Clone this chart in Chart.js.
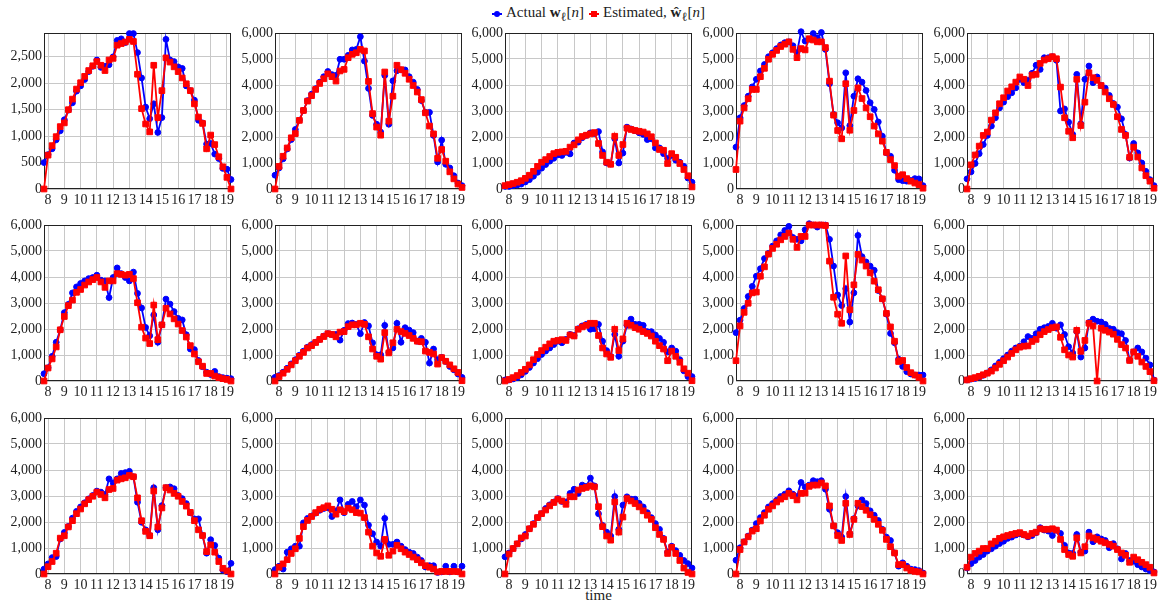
<!DOCTYPE html>
<html>
<head>
<meta charset="utf-8">
<script src="https://cdn.jsdelivr.net/npm/chart.js@4.4.1/dist/chart.umd.min.js"></script>
<style>
  html, body { margin: 0; padding: 0; background: #fff; }
  body { width: 1159px; height: 603px; position: relative; overflow: hidden;
         font-family: "Liberation Serif", serif; color: #222; }
  .panel { position: absolute; }
  #legend { position: absolute; top: 4px; left: 0; width: 1197px; text-align: center;
            font-size: 15px; white-space: nowrap; }
  .sw { display: inline-block; position: relative; width: 10px; height: 8px; vertical-align: middle; margin-right: 4px; }
  .sw::before { content: ''; position: absolute; left: 0; right: 0; top: 3px; height: 2px; background: currentColor; }
  .sw::after { content: ''; position: absolute; left: 2px; top: 1px; width: 6px; height: 6px; background: currentColor; }
  .sw.blue { color: #0000ff; }
  .sw.blue::after { border-radius: 50%; }
  .sw.red { color: #ff0000; margin-left: 5px; }
  #xlabel { position: absolute; top: 587px; left: 0; width: 1197px; text-align: center; font-size: 15px; }
</style>
</head>
<body>
<div id="legend"><span class="sw blue"></span>Actual <b>w</b><sub>ℓ</sub>[<i>n</i>]<span class="sw red"></span>Estimated, <b>ŵ</b><sub>ℓ</sub>[<i>n</i>]</div>
<div id="xlabel">time</div>
<script>
// sample times (hours), 15 minute steps
const hours = [7.75, 8, 8.25, 8.5, 8.75, 9, 9.25, 9.5, 9.75, 10, 10.25, 10.5, 10.75, 11, 11.25, 11.5,
  11.75, 12, 12.25, 12.5, 12.75, 13, 13.25, 13.5, 13.75, 14, 14.25, 14.5, 14.75, 15, 15.25, 15.5,
  15.75, 16, 16.25, 16.5, 16.75, 17, 17.25, 17.5, 17.75, 18, 18.25, 18.5, 18.75, 19, 19.25];
const hourTicks = [8, 9, 10, 11, 12, 13, 14, 15, 16, 17, 18, 19];
const smallTicks = [0, 500, 1000, 1500, 2000, 2500];
const bigTicks = [0, 1000, 2000, 3000, 4000, 5000, 6000];

// row 1
const act11 = [500, 650, 760, 930, 1100, 1310, 1490, 1630, 1850, 1950, 2070, 2220, 2320, 2440, 2300, 2320, 2350, 2500, 2810, 2840, 2770, 2940, 2940, 2580, 2100, 1550, 1330, 1610, 1070, 1350, 2830, 2440, 2410, 2310, 2280, 1950, 1860, 1680, 1300, 1250, 850, 860, 660, 575, 390, 375, 180];
const est11 = [0, 640, 820, 990, 1180, 1250, 1500, 1700, 1890, 2010, 2130, 2240, 2330, 2410, 2340, 2240, 2440, 2470, 2720, 2750, 2780, 2830, 2790, 2170, 1520, 1230, 1080, 2340, 1350, 1860, 2480, 2400, 2310, 2220, 2100, 1990, 1860, 1610, 1360, 1240, 760, 1020, 840, 610, 420, 220, 0];
const act12 = [530, 810, 1160, 1540, 1900, 2290, 2650, 3020, 3400, 3650, 3860, 4110, 4320, 4520, 4400, 4370, 4990, 4990, 5140, 5350, 5370, 5860, 4920, 3870, 2830, 2490, 2190, 4370, 2490, 4160, 4550, 4580, 4580, 4320, 4110, 3830, 3400, 2950, 2950, 2060, 1040, 1880, 950, 810, 510, 230, 130];
const est12 = [0, 870, 1260, 1580, 1970, 2130, 2640, 3020, 3380, 3590, 3830, 4060, 4240, 4430, 4320, 4150, 4540, 4600, 5050, 5180, 5240, 5370, 5310, 4140, 2900, 2380, 2070, 4500, 2610, 3570, 4760, 4590, 4450, 4220, 3980, 3730, 3440, 2930, 2420, 2120, 1180, 1520, 1070, 660, 390, 190, 60];
const act13 = [100, 100, 130, 150, 190, 270, 360, 490, 640, 800, 940, 1070, 1180, 1310, 1290, 1410, 1350, 1770, 1800, 1970, 2060, 2160, 2130, 2210, 1430, 1000, 960, 1930, 1000, 1380, 2380, 2310, 2240, 2160, 2100, 1900, 1930, 1580, 1580, 1360, 1180, 1290, 1110, 1030, 870, 420, 260];
const est13 = [130, 170, 210, 260, 320, 410, 530, 680, 870, 1030, 1130, 1250, 1360, 1410, 1430, 1450, 1610, 1700, 1890, 2020, 2070, 2120, 2170, 1750, 1290, 1030, 950, 2030, 1290, 1710, 2340, 2290, 2250, 2220, 2190, 2120, 2010, 1770, 1520, 1490, 980, 1360, 1220, 980, 750, 510, 80];
const act14 = [1610, 2740, 3210, 3570, 3930, 4220, 4540, 4790, 5090, 5240, 5400, 5540, 5630, 5660, 5510, 5240, 6050, 5690, 5760, 5980, 5820, 6020, 5370, 4050, 2870, 2550, 2350, 4470, 2440, 3570, 4240, 4110, 3790, 3320, 3060, 2580, 2030, 1390, 1260, 720, 360, 320, 300, 330, 400, 390, 130];
const est14 = [750, 2610, 3120, 3470, 3830, 3830, 4320, 4640, 4990, 5180, 5330, 5480, 5570, 5660, 5370, 5050, 5400, 5350, 5780, 5730, 5660, 5660, 5440, 4150, 2840, 2250, 1930, 4050, 2260, 3020, 3890, 3480, 3120, 2780, 2420, 2120, 1840, 1410, 1130, 900, 490, 550, 400, 300, 230, 170, 30];
const act15 = [390, 660, 980, 1360, 1710, 2060, 2420, 2740, 3120, 3340, 3550, 3700, 3890, 4220, 4090, 4190, 4450, 4760, 4600, 5050, 5050, 5090, 4950, 3000, 3080, 2570, 2100, 4410, 2510, 4220, 4730, 4090, 4310, 3980, 3880, 3600, 3290, 3150, 2700, 2100, 1190, 1750, 1390, 1000, 680, 360, 130];
const est15 = [0, 930, 1310, 1650, 2060, 2190, 2650, 2930, 3280, 3510, 3770, 3930, 4110, 4310, 4220, 3980, 4380, 4410, 4830, 4960, 5010, 5090, 5010, 3920, 2740, 2220, 1970, 4220, 2440, 3340, 4470, 4280, 4180, 3980, 3730, 3470, 3250, 2780, 2290, 2060, 1220, 1610, 1230, 810, 510, 300, 30];

// row 2
const act21 = [280, 510, 950, 1490, 1970, 2630, 2950, 3390, 3620, 3750, 3850, 3940, 3980, 4070, 3880, 3850, 3210, 3980, 4350, 4130, 3980, 3850, 4190, 3370, 2810, 2060, 1740, 2540, 1490, 2160, 3150, 2960, 2670, 2410, 2350, 1780, 1230, 1210, 790, 550, 340, 250, 370, 170, 130, 110, 90];
const est21 = [0, 500, 850, 1310, 1970, 2480, 2900, 3110, 3410, 3520, 3690, 3810, 3900, 3980, 3810, 3600, 3850, 3850, 4130, 4100, 4070, 4100, 3940, 3010, 2070, 1650, 1440, 2920, 1590, 2160, 2800, 2580, 2390, 2190, 1940, 1690, 1360, 1040, 740, 570, 290, 290, 190, 130, 90, 60, 0];
const act22 = [140, 210, 340, 490, 660, 820, 990, 1150, 1300, 1400, 1490, 1600, 1730, 1820, 1790, 1790, 1570, 1950, 2210, 2230, 2180, 1820, 2250, 2120, 1470, 1010, 1010, 2140, 1100, 1270, 2220, 1490, 2050, 1960, 1860, 1530, 1640, 1490, 690, 1230, 820, 910, 750, 560, 430, 270, 140];
const est22 = [0, 170, 300, 450, 620, 780, 950, 1100, 1270, 1360, 1480, 1600, 1710, 1820, 1790, 1700, 1880, 1900, 2090, 2160, 2160, 2220, 2180, 1700, 1230, 950, 840, 1860, 1080, 1470, 1990, 1900, 1830, 1750, 1640, 1530, 1510, 1150, 1100, 1040, 650, 900, 760, 620, 470, 330, 10];
const act23 = [40, 40, 80, 130, 240, 370, 520, 690, 860, 1020, 1150, 1270, 1400, 1530, 1470, 1600, 1790, 1750, 2010, 2120, 2180, 1990, 2010, 2180, 1530, 1170, 950, 1790, 950, 1530, 2140, 2380, 2180, 2180, 2140, 1900, 1900, 1770, 1640, 1490, 1120, 1270, 1150, 820, 390, 170, 170];
const est23 = [0, 60, 130, 210, 330, 450, 620, 820, 1020, 1170, 1300, 1430, 1530, 1560, 1590, 1560, 1770, 1730, 1990, 2080, 2140, 2220, 2220, 1750, 1270, 1040, 910, 1990, 1170, 1620, 2220, 2140, 2050, 1990, 1900, 1830, 1730, 1530, 1360, 1230, 780, 1150, 950, 720, 470, 300, 10];
const act24 = [1860, 2340, 2790, 3250, 3640, 4030, 4320, 4710, 4910, 5190, 5390, 5620, 5790, 5950, 5520, 5450, 5390, 5820, 6050, 6000, 5920, 6000, 6000, 5450, 4420, 3310, 2900, 3550, 2270, 3390, 5600, 4780, 4580, 4420, 4260, 3480, 3160, 2570, 1830, 1470, 840, 560, 360, 270, 230, 230, 230];
const est24 = [780, 2120, 2640, 2990, 3390, 3420, 4030, 4390, 4880, 5100, 5260, 5430, 5560, 5690, 5450, 5140, 5560, 5560, 6000, 6000, 6000, 6000, 5980, 4610, 3220, 2570, 2220, 4810, 2740, 3700, 4870, 4650, 4420, 4160, 3840, 3510, 3160, 2600, 2080, 1530, 750, 790, 520, 320, 230, 140, 0];
const act25 = [40, 70, 100, 150, 220, 310, 430, 580, 720, 860, 1000, 1150, 1270, 1340, 1510, 1710, 1640, 1820, 1990, 2050, 2100, 2220, 2030, 2160, 1790, 1320, 1080, 1900, 920, 1270, 2250, 2380, 2300, 2270, 2180, 2020, 1990, 1860, 1820, 1560, 800, 1120, 1270, 1120, 880, 620, 40];
const est25 = [40, 90, 130, 180, 240, 300, 380, 500, 640, 780, 920, 1060, 1200, 1300, 1340, 1350, 1520, 1600, 1780, 1900, 1980, 2050, 2080, 1680, 1200, 1000, 920, 1950, 1140, 1560, 2220, 2120, 0, 2030, 1950, 1880, 1800, 1600, 1400, 1270, 790, 1120, 950, 730, 560, 360, 10];

// row 3
const act31 = [190, 390, 630, 670, 1350, 1600, 1830, 2150, 2410, 2580, 2740, 2890, 3020, 3190, 3150, 3060, 3660, 3510, 3660, 3870, 3900, 3950, 3740, 2760, 1990, 1700, 1480, 3320, 1700, 2630, 3320, 3350, 3280, 3020, 2900, 2710, 2350, 2120, 2120, 1480, 800, 1320, 1100, 610, 150, 90, 410];
const est31 = [0, 280, 480, 800, 1380, 1470, 1810, 2050, 2320, 2500, 2700, 2860, 2990, 3150, 3060, 2930, 3250, 3290, 3610, 3660, 3700, 3790, 3740, 2930, 2050, 1640, 1470, 3190, 1810, 2540, 3320, 3230, 3100, 2990, 2790, 2610, 2370, 2050, 1700, 1480, 860, 1120, 840, 480, 220, 120, 0];
const act32 = [170, 300, 190, 840, 970, 1070, 1070, 1970, 2140, 2230, 2340, 2450, 2520, 2550, 2210, 2430, 2850, 2360, 2680, 2790, 2590, 2850, 2650, 1880, 1550, 1230, 1070, 2140, 1140, 1140, 1230, 1070, 940, 840, 790, 650, 520, 270, 320, 320, 60, 80, 300, 80, 300, 80, 300];
const est32 = [0, 260, 390, 550, 790, 970, 1370, 1820, 2060, 2210, 2360, 2490, 2550, 2620, 2490, 2300, 2470, 2400, 2530, 2470, 2360, 2340, 2170, 1610, 1070, 810, 680, 1330, 720, 880, 1100, 970, 840, 750, 650, 550, 430, 320, 260, 190, 80, 100, 100, 100, 100, 90, 0];
const act33 = [660, 810, 980, 1160, 1350, 1520, 1740, 1940, 2170, 2320, 2520, 2660, 2770, 2900, 2790, 2770, 3100, 3260, 3100, 3420, 3370, 3690, 3390, 2320, 1870, 1610, 1460, 2980, 1720, 2650, 2970, 2880, 2880, 2720, 2580, 2360, 2170, 1940, 1720, 1370, 840, 1070, 900, 720, 520, 400, 230];
const est33 = [0, 770, 980, 1160, 1390, 1460, 1740, 1910, 2170, 2320, 2460, 2620, 2750, 2880, 2810, 2680, 2970, 2970, 3230, 3290, 3330, 3390, 3350, 2590, 1820, 1460, 1300, 2770, 1610, 2190, 2900, 2810, 2710, 2580, 2430, 2260, 2100, 1780, 1520, 1330, 790, 1030, 790, 520, 230, 60, 0];
const act34 = [530, 1010, 1240, 1460, 1690, 1940, 2170, 2360, 2580, 2710, 2840, 2980, 3070, 3200, 3070, 2980, 3520, 3350, 3420, 3590, 3550, 3590, 3260, 2490, 1850, 1590, 1420, 2980, 1550, 2130, 2620, 2850, 2710, 2430, 2260, 2060, 1720, 1420, 1290, 810, 300, 430, 300, 190, 170, 130, 40];
const est34 = [0, 940, 1230, 1430, 1650, 1740, 2040, 2260, 2490, 2620, 2770, 2880, 2970, 3100, 3010, 2850, 3100, 3110, 3370, 3420, 3420, 3500, 3390, 2620, 1850, 1480, 1290, 2720, 1520, 2100, 2720, 2590, 2450, 2280, 2100, 1910, 1680, 1330, 1050, 810, 360, 360, 230, 140, 100, 80, 0];
const act35 = [230, 400, 520, 650, 750, 880, 970, 1070, 1170, 1260, 1370, 1420, 1500, 1550, 1500, 1430, 1480, 1590, 1780, 1690, 1650, 1480, 1680, 1560, 1100, 810, 790, 1520, 840, 880, 1610, 1240, 1430, 1350, 1290, 1010, 1170, 970, 580, 790, 520, 490, 360, 270, 190, 130, 80];
const est35 = [260, 650, 790, 880, 980, 980, 1160, 1260, 1370, 1430, 1480, 1520, 1560, 1590, 1520, 1460, 1560, 1610, 1740, 1720, 1720, 1740, 1690, 1330, 940, 750, 680, 1390, 810, 1050, 1460, 1390, 1330, 1260, 1200, 1140, 1070, 940, 810, 720, 450, 650, 550, 450, 360, 260, 40];

const actual = [act11, act12, act13, act14, act15, act21, act22, act23, act24, act25, act31, act32, act33, act34, act35];
const estimated = [est11, est12, est13, est14, est15, est21, est22, est23, est24, est25, est31, est32, est33, est34, est35];
const yMax = [2950, 6000, 6000, 6000, 6000, 6000, 6000, 6000, 6000, 6000, 6000, 6000, 6000, 6000, 6000];

// plot area placement
const colLeft = [44, 275, 505, 736, 967];
const rowTop = [33, 225, 418];
const plotW = 187, plotH = 156;
const padL = 44, padT = 12, padR = 10, padB = 22;

const tickFont = { family: "Liberation Serif", size: 14 };

// box round the plot area, like a pgfplots axis
const frame = {
  id: 'frame',
  beforeDatasetsDraw(chart) {
    const a = chart.chartArea, ctx = chart.ctx;
    ctx.save();
    ctx.strokeStyle = '#222';
    ctx.lineWidth = 1;
    ctx.strokeRect(Math.round(a.left) + 0.5, Math.round(a.top) + 0.5,
      Math.round(a.right - a.left) - 1, Math.round(a.bottom - a.top) - 1);
    ctx.restore();
  }
};

function series(vals) {
  return hours.map((h, k) => ({ x: h, y: vals[k] }));
}

for (let i = 0; i < 15; i++) {
  const r = Math.floor(i / 5), c = i % 5;
  const yTicks = yMax[i] < 6000 ? smallTicks : bigTicks;
  const box = document.createElement('div');
  box.className = 'panel';
  box.style.left = (colLeft[c] - padL) + 'px';
  box.style.top = (rowTop[r] - padT) + 'px';
  const cv = document.createElement('canvas');
  cv.width = padL + plotW + padR;
  cv.height = padT + plotH + padB;
  box.appendChild(cv);
  document.body.appendChild(box);

  new Chart(cv, {
    type: 'line',
    data: {
      datasets: [
        {
          label: 'Estimated',
          data: series(estimated[i]),
          borderColor: '#ff0000',
          backgroundColor: '#ff0000',
          borderWidth: 1.8,
          pointStyle: 'rect',
          pointRadius: 4,
          pointBorderWidth: 1,
          order: 0,
          clip: 6,
        },
        {
          label: 'Actual',
          data: series(actual[i]),
          borderColor: '#0000ff',
          backgroundColor: '#0000ff',
          borderWidth: 1.8,
          pointStyle: 'circle',
          pointRadius: 2.9,
          pointBorderWidth: 1,
          order: 1,
          clip: 6,
        },
      ],
    },
    options: {
      responsive: false,
      animation: false,
      events: [],
      layout: { padding: { left: 0, top: padT, right: padR, bottom: 0 } },
      plugins: { legend: { display: false }, tooltip: { enabled: false } },
      scales: {
        x: {
          type: 'linear',
          min: 7.75,
          max: 19.25,
          afterFit: (s) => { s.height = padB; },
          afterBuildTicks: (s) => { s.ticks = hourTicks.map((v) => ({ value: v })); },
          border: { display: false },
          grid: { color: '#c8c8c8', lineWidth: 1, drawTicks: false },
          ticks: {
            autoSkip: false, maxRotation: 0,
            padding: 3, color: '#222', font: tickFont,
            callback: (v) => v,
          },
        },
        y: {
          min: 0,
          max: yMax[i],
          afterFit: (s) => { s.width = padL; },
          afterBuildTicks: (s) => { s.ticks = yTicks.map((v) => ({ value: v })); },
          border: { display: false },
          grid: { color: '#c8c8c8', lineWidth: 1, drawTicks: false },
          ticks: {
            autoSkip: false,
            padding: 2, color: '#222', font: tickFont,
            callback: (v) => v.toLocaleString('en-US'),
          },
        },
      },
    },
    plugins: [frame],
  });
}
</script>
</body>
</html>
